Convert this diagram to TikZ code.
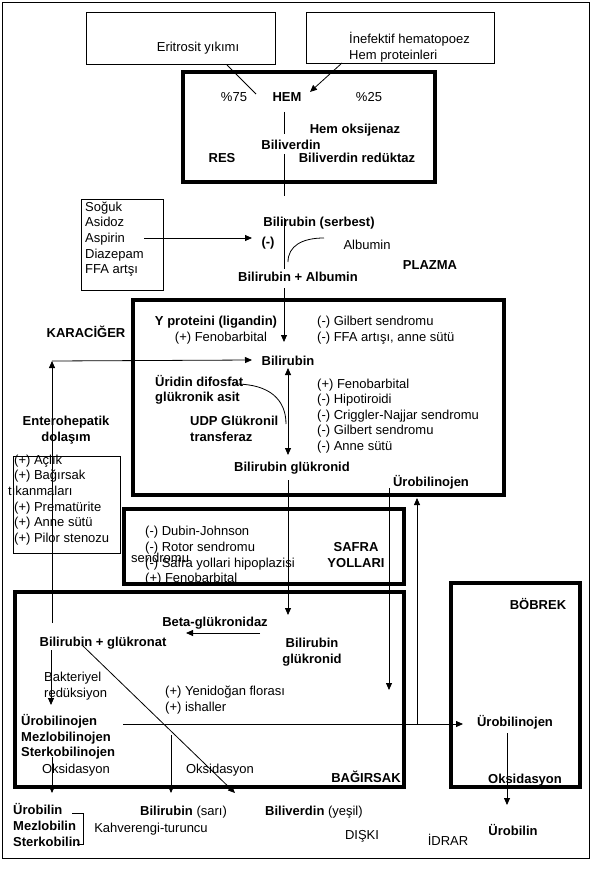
\documentclass[tikz,border=0pt]{standalone}
\usepackage{fontspec}
\setmainfont{Liberation Sans}
\usetikzlibrary{arrows.meta}
\newcommand{\txtsize}{\fontsize{13}{15.6}\selectfont}
\tikzstyle{thinbox} = [rectangle, draw=black, line width=0.8pt, inner sep=0pt]
\tikzstyle{thickbox} = [rectangle, draw=black, line width=4pt, inner sep=0pt]
\tikzstyle{txt} = [inner sep=0pt, font=\txtsize]
\tikzstyle{bold} = [inner sep=0pt, font=\txtsize\bfseries]
\tikzstyle{list} = [txt, align=left, anchor=west]
\tikzstyle{blist} = [bold, align=left, anchor=west]
\tikzstyle{link} = [line width=0.8pt]
\tikzstyle{arrow} = [line width=0.8pt,->]

\begin{document}
\begin{tikzpicture}[x=1pt, y=-1pt, >={Triangle[length=7pt,width=6pt]}]
\useasboundingbox (0,0) rectangle (592,877);
\draw[link] (2,2) rectangle (589,858);

% boxes
\node (eryBox) [thinbox, minimum width=189pt, minimum height=52pt] at (180.5,38.5) {};
\node (ineffBox) [thinbox, minimum width=188pt, minimum height=51pt] at (400,38) {};
\node (hemBox) [thickbox, minimum width=252pt, minimum height=110pt] at (309,127) {};
\node (stressBox) [thinbox, minimum width=82pt, minimum height=91pt] at (122,244.5) {};
\node (liverBox) [thickbox, minimum width=371pt, minimum height=195pt] at (318.5,397.5) {};
\node (fastBox) [thinbox, minimum width=107pt, minimum height=97pt] at (66.5,504.5) {};
\node (gutBox) [thickbox, minimum width=389pt, minimum height=195pt] at (209.5,689.5) {};
\node (kidneyBox) [thickbox, minimum width=129pt, minimum height=204pt] at (515.5,685) {};

% sources and RES
\node (ery) [txt] at (198,48) {Eritrosit yıkımı};
\node (ineff) [list] at (349,47) {İnefektif hematopoez\\Hem proteinleri};
\node (p75) [txt] at (234,97) {\%75};
\node (hem) [bold] at (287,97) {HEM};
\node (p25) [txt] at (369,97) {\%25};
\node (hemox) [bold] at (355,130) {Hem oksijenaz};
\node (biliv) [bold] at (291,145) {Biliverdin};
\node (res) [bold] at (222,158) {RES};
\node (bvr) [bold] at (357,158) {Biliverdin redüktaz};

% plasma
\node (stress) [list] at (85,239) {Soğuk\\Asidoz\\Aspirin\\Diazepam\\FFA artşı};
\node (serb) [bold] at (319,223) {Bilirubin (serbest)};
\node (neg) [bold] at (268,243) {(-)};
\node (alb) [txt] at (367,245) {Albumin};
\node (plazma) [bold] at (430,265) {PLAZMA};
\node (bilalb) [bold] at (298,277) {Bilirubin + Albumin};

% liver
\node (karaciger) [bold] at (86,332) {KARACİĞER};
\node (yprot) [bold] at (216,322) {Y proteini (ligandin)};
\node (feno1) [txt] at (221,338) {(+) Fenobarbital};
\node (gilb) [list] at (317,330) {(-) Gilbert sendromu\\(-) FFA artışı, anne sütü};
\node (bil) [bold] at (288,361) {Bilirubin};
\node (udpga) [blist] at (155,390) {Üridin difosfat\\glükronik asit};
\node (udpgt) [blist] at (190,429) {UDP Glükronil\\transferaz};
\node (regul) [list] at (317,416) {(+) Fenobarbital\\(-) Hipotiroidi\\(-) Criggler-Najjar sendromu\\(-) Gilbert sendromu\\(-) Anne sütü};
\node (enter) [bold, align=center] at (66,430) {Enterohepatik\\dolaşım};
\node (bglk) [bold] at (292,468) {Bilirubin glükronid};
\node (uro1) [bold] at (431,482) {Ürobilinojen};
\node (fast) [list] at (14,500) {(+) Açlık\\(+) Bağırsak\\\hspace*{-6pt}tıkanmaları\\(+) Prematürite\\(+) Anne sütü\\(+) Pilor stenozu};

% bile ducts
\node (bileList) [list] at (145,556) {(-) Dubin-Johnson\\(-) Rotor sendromu\\(-) Safra yollari hipoplazisi\\(+) Fenobarbital};
\node (sendr) [txt, anchor=west] at (131,558) {sendromu};
\node (safra) [bold, align=center] at (356,555) {SAFRA\\YOLLARI};
\node (bileBox) [thickbox, minimum width=280pt, minimum height=75pt] at (264,546.5) {};

% gut and kidney
\node (bobrek) [bold] at (538,604) {BÖBREK};
\node (beta) [bold] at (215,623) {Beta-glükronidaz};
\node (bglc) [bold] at (103,643) {Bilirubin + glükronat};
\node (bglk2) [bold, align=center] at (312,652) {Bilirubin\\glükronid};
\node (bakt) [list] at (44,686) {Bakteriyel\\redüksiyon};
\node (flora) [list] at (165,700) {(+) Yenidoğan florası\\(+) ishaller};
\node (urob) [blist] at (21,737) {Ürobilinojen\\Mezlobilinojen\\Sterkobilinojen};
\node (oks1) [txt] at (76,770) {Oksidasyon};
\node (oks2) [txt] at (220,770) {Oksidasyon};
\node (bagirsak) [bold] at (366,777) {BAĞIRSAK};
\node (uro2) [bold] at (515,722) {Ürobilinojen};
\node (oks3) [bold] at (525,780) {Oksidasyon};

% stool and urine
\node (stool) [blist] at (13,825) {Ürobilin\\Mezlobilin\\Sterkobilin};
\node (kahve) [txt] at (151,829) {Kahverengi-turuncu};
\node (sari) [txt, anchor=west] at (140,812) {\textbf{Bilirubin} (sarı)};
\node (yesil) [txt, anchor=west] at (265,812) {\textbf{Biliverdin} (yeşil)};
\node (diski) [txt] at (362,836) {DIŞKI};
\node (idrar) [txt] at (448,840) {İDRAR};
\node (uro3) [bold] at (513,830) {Ürobilin};

% connector ends
\coordinate (eryOut) at (227,65);
\coordinate (hemIn) at (256,94);
\coordinate (ineffOut) at (342,63);
\coordinate (hemIn2) at (310,92);
\coordinate (hemTop) at (284,112);
\coordinate (bvTop) at (284,134);
\coordinate (bvBot) at (284,154);
\coordinate (resOut) at (284,196);
\coordinate (serbTop) at (284,218);
\coordinate (albTop) at (284,269);
\coordinate (albBot) at (284,288);
\coordinate (ligIn) at (284,342);
\coordinate (stressOut) at (144,238);
\coordinate (negIn) at (252,238);
\coordinate (albStart) at (288,262);
\coordinate (albEnd) at (324,238);
\coordinate (entBot) at (52,623);
\coordinate (entTop) at (52,361);
\coordinate (bilIn) at (252,360);
\coordinate (conjTop) at (288,368);
\coordinate (conjBot) at (288,455);
\coordinate (udpStart) at (235,384);
\coordinate (udpEnd) at (286,424);
\coordinate (bileTop) at (288,480);
\coordinate (bileBot) at (288,615);
\coordinate (uroTop) at (389,488);
\coordinate (uroBot) at (389,690);
\coordinate (portBot) at (417,724);
\coordinate (portTop) at (417,498);
\coordinate (betaR) at (260,633);
\coordinate (betaL) at (186,633);
\coordinate (baktTop) at (51,650);
\coordinate (baktBot) at (51,705);
\coordinate (diagTop) at (82,645);
\coordinate (diagBot) at (235,793);
\coordinate (uroL) at (123,724);
\coordinate (uroR) at (463,724);
\coordinate (sariTop) at (171,735);
\coordinate (sariBot) at (171,793);
\coordinate (oksTop) at (52,757);
\coordinate (oksBot) at (52,793);
\coordinate (kidTop) at (507,733);
\coordinate (kidBot) at (507,805);
\coordinate (brTop) at (72,813);
\coordinate (brBot) at (77,844);

% connectors
\draw[link] (eryOut) -- (hemIn);
\draw[arrow] (ineffOut) -- (hemIn2);
\draw[link] (hemTop) -- (bvTop);
\draw[link] (bvBot) -- (resOut);
\draw[link] (serbTop) -- (albTop);
\draw[arrow] (albBot) -- (ligIn);
\draw[arrow] (stressOut) -- (negIn);
\draw[link] (albStart) .. controls (288,246) and (302,238) .. (albEnd);
\draw[arrow] (entBot) -- (entTop);
\draw[arrow] (entTop) -- (bilIn);
\draw[arrow, <->] (conjTop) -- (conjBot);
\draw[link] (udpStart) .. controls (270,384) and (286,400) .. (udpEnd);
\draw[arrow] (bileTop) -- (bileBot);
\draw[arrow] (uroTop) -- (uroBot);
\draw[arrow] (portBot) -- (portTop);
\draw[arrow] (betaR) -- (betaL);
\draw[arrow] (baktTop) -- (baktBot);
\draw[arrow] (diagTop) -- (diagBot);
\draw[arrow] (uroL) -- (uroR);
\draw[arrow] (sariTop) -- (sariBot);
\draw[arrow] (oksTop) -- (oksBot);
\draw[arrow] (kidTop) -- (kidBot);
\draw[link] (brTop) -| (83,844) -- (brBot);
\end{tikzpicture}
\end{document}
